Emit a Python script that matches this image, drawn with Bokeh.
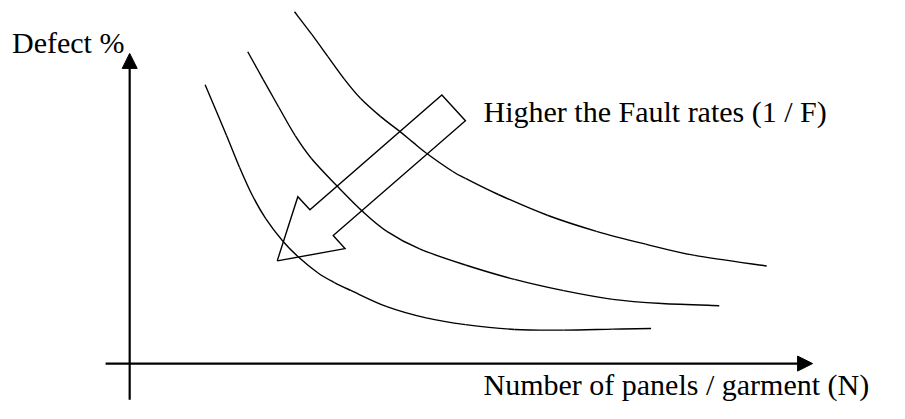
from bokeh.plotting import figure
from bokeh.models import Range1d, Arrow, NormalHead, ColumnDataSource
from bokeh.core.properties import value
from bokeh.embed import file_html
from bokeh.resources import INLINE

# ---- data (schematic units, origin at the axes' crossing) ----
# lowest curve
c1_n = [76.8, 98.5, 111.8, 125.2, 138.5, 155.8, 171.8, 191.8, 208.5, 225.2,
        261.8, 301.8, 341.8, 391.8, 441.8, 491.8, 530.8]
c1_d = [290.0, 237.5, 204.2, 174.2, 150.8, 127.5, 110.8, 94.2, 84.2, 76.0,
        59.2, 47.5, 40.5, 35.5, 34.8, 35.8, 36.5]
# middle curve
c2_n = [120.2, 135.8, 151.8, 168.5, 185.2, 211.2, 236.8, 261.8, 295.2, 341.8,
        391.8, 441.8, 491.8, 541.8, 600.2]
c2_d = [324.2, 295.5, 266.5, 237.0, 213.0, 184.6, 158.5, 137.5, 119.2, 102.5,
        87.5, 75.8, 66.8, 62.5, 60.2]
# top curve
c3_n = [167.8, 185.2, 201.8, 218.5, 235.2, 255.2, 275.2, 288.5, 301.8, 328.5,
        341.8, 375.2, 425.2, 475.2, 525.2, 575.2, 648.5]
c3_d = [365.8, 342.5, 319.2, 295.8, 275.5, 257.0, 241.2, 230.0, 219.0, 200.0,
        192.5, 175.8, 154.2, 137.5, 124.2, 112.5, 101.5]

# hollow "higher fault rate" arrow outline
arrow_n = [150.2, 171.2, 183.5, 317.8, 341.8, 207.2, 219.2, 150.2]
arrow_d = [106.8, 173.5, 160.0, 279.2, 252.5, 133.2, 119.5, 106.8]

# axes extents
xaxis_n = [-24.5, 695.2]
yaxis_d = [-37.5, 322.5]

labels = ["Defect %", "Higher the Fault rates (1 / F)", "Number of panels / garment (N)"]
label_n = [-119.8, 360.2, 360.2]
label_d = [333.5, 262.0, -22.0]


def smooth_segments(xs, ys):
    """Catmull-Rom through the read points, expressed as cubic Bezier segments."""
    n = len(xs)
    out = dict(x0=[], y0=[], x1=[], y1=[], cx0=[], cy0=[], cx1=[], cy1=[])
    for i in range(n - 1):
        i0 = max(i - 1, 0)
        i3 = min(i + 2, n - 1)
        out["x0"].append(xs[i]); out["y0"].append(ys[i])
        out["x1"].append(xs[i + 1]); out["y1"].append(ys[i + 1])
        out["cx0"].append(xs[i] + (xs[i + 1] - xs[i0]) / 6.0)
        out["cy0"].append(ys[i] + (ys[i + 1] - ys[i0]) / 6.0)
        out["cx1"].append(xs[i + 1] - (xs[i3] - xs[i]) / 6.0)
        out["cy1"].append(ys[i + 1] - (ys[i3] - ys[i]) / 6.0)
    return out


# ---- figure ----
p = figure(width=889, height=403,
           x_range=Range1d(-131.5, 773.5), y_range=Range1d(-41.5, 377.5),
           x_axis_type=None, y_axis_type=None,
           output_backend="svg", toolbar_location=None,
           min_border=0, outline_line_color=None)
p.grid.visible = False
p.background_fill_color = "white"
p.border_fill_color = "white"

lw = 1.4
for xs, ys in [(c1_n, c1_d), (c2_n, c2_d), (c3_n, c3_d)]:
    seg = ColumnDataSource(smooth_segments(xs, ys))
    p.bezier(x0="x0", y0="y0", x1="x1", y1="y1", cx0="cx0", cy0="cy0",
             cx1="cx1", cy1="cy1", source=seg, line_color="black", line_width=lw)

p.line(arrow_n, arrow_d, line_color="black", line_width=lw, line_join="miter")

# axes with arrow heads
p.add_layout(Arrow(end=NormalHead(size=15, fill_color="black", line_color="black", line_width=1),
                   x_start=xaxis_n[0], y_start=0, x_end=xaxis_n[1], y_end=0,
                   line_color="black", line_width=2.2))
p.add_layout(Arrow(end=NormalHead(size=15, fill_color="black", line_color="black", line_width=1),
                   x_start=0, y_start=yaxis_d[0], x_end=0, y_end=yaxis_d[1],
                   line_color="black", line_width=2.2))

src = ColumnDataSource(dict(x=label_n, y=label_d, t=labels))
p.text(x="x", y="y", text="t", source=src,
       text_font=value("Liberation Serif"), text_font_size="30px",
       text_color="black", text_align="left", text_baseline="alphabetic")

open("out.html", "w").write(file_html(p, INLINE))
